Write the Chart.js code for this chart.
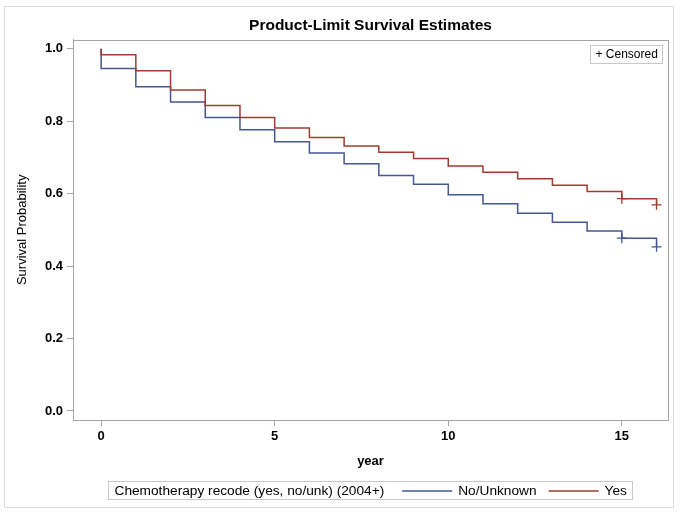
<!DOCTYPE html>
<html lang="en">
<head>
<meta charset="UTF-8">
<title>Product-Limit Survival Estimates</title>
<style>
  html, body { margin: 0; padding: 0; background: #fff; }
  #wrap { width: 680px; height: 514px; }
</style>
</head>
<body>
<div id="wrap"><canvas id="grafico" width="680" height="514"></canvas></div>
<script src="https://cdn.jsdelivr.net/npm/chart.js"></script>
<script>
// Kaplan-Meier step points (year, survival after the drop)
const years = [0, 0, 1, 2, 3, 4, 5, 6, 7, 8, 9, 10, 11, 12, 13, 14, 15, 16]
const survNo = [1.0, 0.945, 0.895, 0.853, 0.810, 0.776, 0.743, 0.712, 0.682, 0.650, 0.626, 0.597, 0.572, 0.546, 0.521, 0.497, 0.477, 0.453]
const survYes = [1.0, 0.983, 0.939, 0.886, 0.843, 0.810, 0.781, 0.755, 0.731, 0.714, 0.697, 0.676, 0.659, 0.641, 0.623, 0.606, 0.586, 0.569]

// censored observations
const censorYears = [15, 16]
const censorNo = [0.477, 0.453]
const censorYes = [0.586, 0.569]

const seriesNames = ['No/Unknown', 'Yes']
const legendTitle = 'Chemotherapy recode (yes, no/unk) (2004+)'
const xTicks = [0, 5, 10, 15]
const yTicks = [0.0, 0.2, 0.4, 0.6, 0.8, 1.0]

const corAzul = '#445694'
const corVermelho = '#A23A2E'
const corEixo = '#a6a6a6'
const fonte = '"Liberation Sans", Arial, sans-serif'

const pontos = (xs, ys) => xs.map((x, i) => ({ x: x, y: ys[i] }))

const molduraPlugin = {
    id: 'moldura',
    afterDraw(chart) {
        const { ctx, chartArea: a } = chart
        ctx.save()

        // outer figure border
        ctx.strokeStyle = '#dcdcdc'
        ctx.lineWidth = 1
        ctx.strokeRect(4.5, 6.5, 669, 501)

        // plot frame
        ctx.strokeStyle = corEixo
        ctx.strokeRect(Math.round(a.left) + 0.5, Math.round(a.top) + 0.5,
            Math.round(a.right - a.left), Math.round(a.bottom - a.top))

        // "+ Censored" box inside the plot
        ctx.font = '12px ' + fonte
        ctx.textBaseline = 'middle'
        const txtCens = '+ Censored'
        const wc = ctx.measureText(txtCens).width + 10
        const xc = Math.round(a.right - 6 - wc) + 0.5
        const yc = Math.round(a.top + 5) + 0.5
        ctx.strokeStyle = '#c8c8c8'
        ctx.strokeRect(xc, yc, Math.round(wc), 18)
        ctx.fillStyle = '#000'
        ctx.textAlign = 'left'
        ctx.fillText(txtCens, xc + 5, yc + 9.5)

        // bottom legend
        ctx.font = '13.7px ' + fonte
        const linha = 50
        const wTitulo = ctx.measureText(legendTitle).width
        const w1 = ctx.measureText(seriesNames[0]).width
        const w2 = ctx.measureText(seriesNames[1]).width
        const largura = 6 + wTitulo + 18 + linha + 6 + w1 + 12 + linha + 6 + w2 + 6
        let x = Math.round((a.left + a.right) / 2 - largura / 2) + 0.5
        const yTopo = 481.5
        ctx.strokeStyle = '#c8c8c8'
        ctx.strokeRect(x, yTopo, Math.round(largura), 18)
        const yMeio = yTopo + 9.5
        ctx.fillStyle = '#000'
        x += 6
        ctx.fillText(legendTitle, x, yMeio)
        x += wTitulo + 18
        ctx.strokeStyle = corAzul
        ctx.lineWidth = 1.3
        ctx.beginPath(); ctx.moveTo(x, yMeio); ctx.lineTo(x + linha, yMeio); ctx.stroke()
        x += linha + 6
        ctx.fillText(seriesNames[0], x, yMeio)
        x += w1 + 12
        ctx.strokeStyle = corVermelho
        ctx.beginPath(); ctx.moveTo(x, yMeio); ctx.lineTo(x + linha, yMeio); ctx.stroke()
        x += linha + 6
        ctx.fillText(seriesNames[1], x, yMeio)

        ctx.restore()
    }
}

const ctx = document.getElementById('grafico')

new Chart(ctx, {
    type: 'line',
    data: {
        datasets: [
            {
                label: seriesNames[0],
                data: pontos(years, survNo),
                borderColor: corAzul,
                borderWidth: 1.5,
                stepped: 'before',
                pointRadius: 0,
                fill: false,
                order: 2
            },
            {
                label: seriesNames[1],
                data: pontos(years, survYes),
                borderColor: corVermelho,
                borderWidth: 1.5,
                stepped: 'before',
                pointRadius: 0,
                fill: false,
                order: 1
            },
            {
                label: 'Censored No',
                data: pontos(censorYears, censorNo),
                showLine: false,
                pointStyle: 'cross',
                pointRadius: 5,
                borderWidth: 1.3,
                borderColor: corAzul,
                order: 2
            },
            {
                label: 'Censored Yes',
                data: pontos(censorYears, censorYes),
                showLine: false,
                pointStyle: 'cross',
                pointRadius: 5,
                borderWidth: 1.3,
                borderColor: corVermelho,
                order: 1
            }
        ]
    },
    options: {
        responsive: false,
        maintainAspectRatio: false,
        animation: false,
        layout: { padding: { left: 0, right: 12, top: 0, bottom: 43 } },
        plugins: {
            legend: { display: false },
            tooltip: { enabled: false },
            title: {
                display: true,
                text: 'Product-Limit Survival Estimates',
                fullSize: false,
                color: '#000',
                font: { family: fonte, size: 15.5, weight: 'bold' },
                padding: { top: 16, bottom: 5 }
            }
        },
        scales: {
            x: {
                type: 'linear',
                min: -0.81,
                max: 16.33,
                afterBuildTicks: s => { s.ticks = xTicks.map(v => ({ value: v })) },
                afterFit: s => { s.height = 51 },
                grid: { drawOnChartArea: false, drawTicks: true, tickLength: 6, color: corEixo },
                border: { display: true, color: corEixo },
                ticks: { color: '#000', padding: 3, font: { family: fonte, size: 13, weight: 'bold' } },
                title: {
                    display: true,
                    text: 'year',
                    color: '#000',
                    font: { family: fonte, size: 13, weight: 'bold' },
                    padding: { top: 0, bottom: 2 }
                }
            },
            y: {
                type: 'linear',
                min: -0.025,
                max: 1.025,
                afterBuildTicks: s => { s.ticks = yTicks.map(v => ({ value: v })) },
                afterFit: s => { s.width = 73 },
                grid: { drawOnChartArea: false, drawTicks: true, tickLength: 6, color: corEixo },
                border: { display: true, color: corEixo },
                ticks: {
                    color: '#000',
                    padding: 4,
                    font: { family: fonte, size: 13, weight: 'bold' },
                    callback: v => Number(v).toFixed(1)
                },
                title: {
                    display: true,
                    text: 'Survival Probability',
                    color: '#000',
                    font: { family: fonte, size: 13 },
                    padding: { top: 15, bottom: 0 }
                }
            }
        }
    },
    plugins: [molduraPlugin]
})
</script>
</body>
</html>
